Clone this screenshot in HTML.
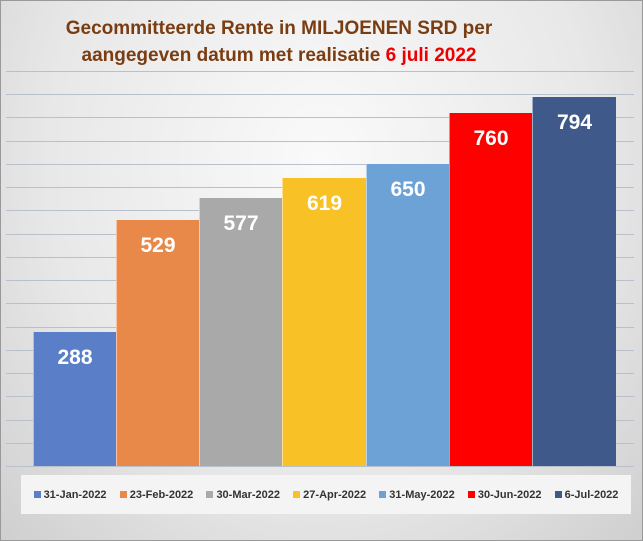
<!DOCTYPE html>
<html><head><style>
body{margin:0;width:643px;height:541px;overflow:hidden;font-family:"Liberation Sans",sans-serif}
.c{position:absolute;left:0;top:0;width:641px;height:539px;border:1px solid #999;background:radial-gradient(ellipse at 50% 30%,#fafafa 0%,#e8e8e8 60%,#cfcfcf 100%)}
.t{position:absolute;left:0;width:556px;text-align:center;top:14px;font-weight:bold;font-size:19px;color:#7a3d12;line-height:27px}
.g{position:absolute;left:5px;width:628px;height:1px;background:#b8c0cc}
.b{position:absolute;bottom:74px;color:#fff;font-weight:bold;font-size:21px;text-align:center;box-sizing:border-box;padding-top:14px;border-left:1px solid rgba(255,255,255,0.5)}
.lg{position:absolute;left:20px;top:474px;width:610px;height:39px;background:#f4f4f4;font-size:11px;font-weight:bold;color:#333;display:flex;align-items:center;justify-content:space-around;padding:0 6px;box-sizing:border-box}
.lg span i{display:inline-block;width:7px;height:7px;margin-right:3px}
</style></head><body><div class="c">
<div class="t">Gecommitteerde Rente in MILJOENEN SRD per<br>aangegeven datum met realisatie <span style="color:#e00">6 juli 2022</span></div>
<div id="gr"></div>
<div class="b" style="left:32px;width:83px;height:134px;background:#5a7fc8">288</div>
<div class="b" style="left:115px;width:83px;height:246px;background:#e8894a">529</div>
<div class="b" style="left:198px;width:83px;height:268px;background:#a9a9a9">577</div>
<div class="b" style="left:281px;width:84px;height:288px;background:#f8c125">619</div>
<div class="b" style="left:365px;width:83px;height:302px;background:#6da2d6">650</div>
<div class="b" style="left:448px;width:83px;height:353px;background:#ff0000">760</div>
<div class="b" style="left:531px;width:84px;height:369px;background:#3f5a8a">794</div>
<div class="lg">
<span><i style="background:#5a7fc8"></i>31-Jan-2022</span>
<span><i style="background:#e8894a"></i>23-Feb-2022</span>
<span><i style="background:#a9a9a9"></i>30-Mar-2022</span>
<span><i style="background:#f8c125"></i>27-Apr-2022</span>
<span><i style="background:#6da2d6"></i>31-May-2022</span>
<span><i style="background:#ff0000"></i>30-Jun-2022</span>
<span><i style="background:#3f5a8a"></i>6-Jul-2022</span>
</div>
</div>
<script>
var h='';for(var i=0;i<=17;i++){h+='<div class="g" style="top:'+(465-23.25*i).toFixed(1)+'px"></div>';}
document.getElementById('gr').innerHTML=h;
</script>
</body></html>
